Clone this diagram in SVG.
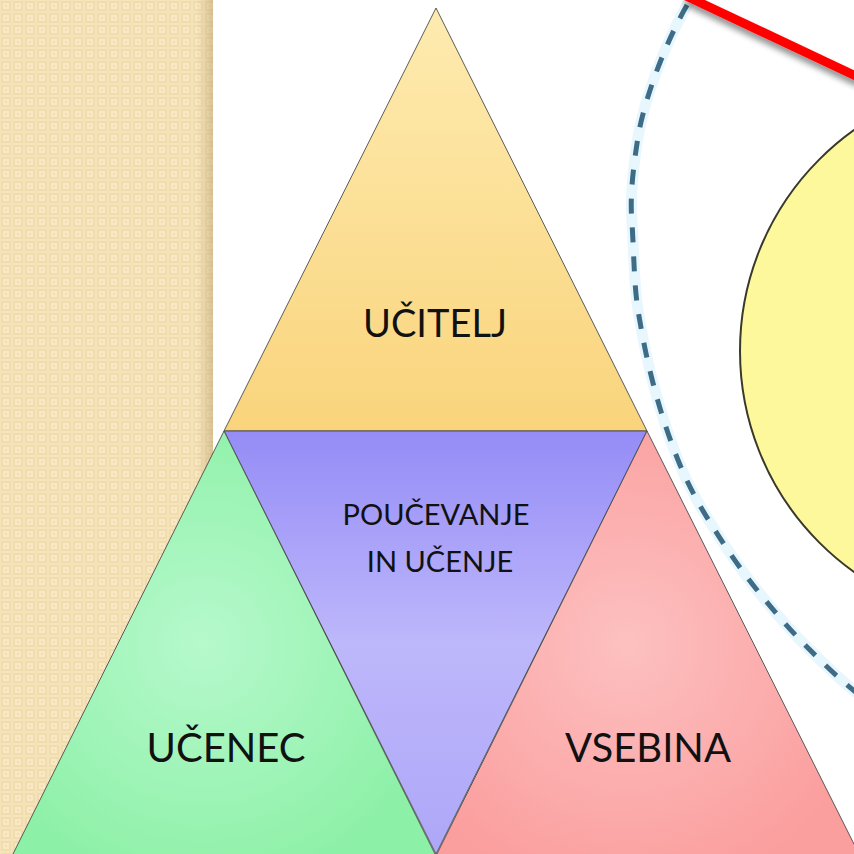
<svg xmlns="http://www.w3.org/2000/svg" width="854" height="854" viewBox="0 0 854 854">
<defs>
  <pattern id="chk" width="12" height="12" patternUnits="userSpaceOnUse">
    <rect width="12" height="12" fill="#f5e4ba"/>
    <rect x="1" y="1" width="10" height="10" fill="#f0dcaf"/>
    <rect x="3" y="3" width="6" height="6" fill="#f8e9c4"/>
    <rect x="5" y="5" width="2" height="2" fill="#f1ddb1"/>
  </pattern>
  <linearGradient id="edge" x1="0" y1="0" x2="1" y2="0">
    <stop offset="0" stop-color="#c8b080" stop-opacity="0"/>
    <stop offset="1" stop-color="#b89c68" stop-opacity="0.5"/>
  </linearGradient>
  <linearGradient id="gY" x1="0" y1="0" x2="0" y2="1">
    <stop offset="0" stop-color="#feebb0"/>
    <stop offset="1" stop-color="#f9d47c"/>
  </linearGradient>
  <radialGradient id="gG" cx="0.45" cy="0.5" r="0.6">
    <stop offset="0" stop-color="#b6f9cc"/>
    <stop offset="1" stop-color="#8cf0a6"/>
  </radialGradient>
  <linearGradient id="gP" x1="0" y1="0" x2="0" y2="1">
    <stop offset="0" stop-color="#958cf6"/>
    <stop offset="0.5" stop-color="#bdb7fb"/>
    <stop offset="1" stop-color="#aea7f8"/>
  </linearGradient>
  <radialGradient id="gR" cx="0.45" cy="0.5" r="0.6">
    <stop offset="0" stop-color="#fdc0c0"/>
    <stop offset="1" stop-color="#fb9e9e"/>
  </radialGradient>
  <filter id="sh" x="-20%" y="-50%" width="140%" height="200%">
    <feGaussianBlur in="SourceAlpha" stdDeviation="3"/>
    <feOffset dx="0" dy="5"/>
    <feComponentTransfer><feFuncA type="linear" slope="0.45"/></feComponentTransfer>
    <feMerge><feMergeNode/><feMergeNode in="SourceGraphic"/></feMerge>
  </filter>
  <filter id="glow" x="-20%" y="-20%" width="140%" height="140%">
    <feGaussianBlur stdDeviation="4"/>
  </filter>
  <style>
    .tri{stroke:#4a4a4a;stroke-width:0.9;stroke-linejoin:miter}
    .lbl{font-family:Lato,"Liberation Sans",sans-serif;fill:#111;text-anchor:middle}
  </style>
</defs>

<rect width="854" height="854" fill="#ffffff"/>

<!-- left textured panel -->
<g id="panel">
  <rect x="0" y="0" width="213" height="854" fill="url(#chk)"/>
  <rect x="196" y="0" width="17" height="854" fill="url(#edge)"/>
</g>

<!-- background decoration on the right -->
<g id="decor">
  <circle cx="1011" cy="351" r="281" fill="#ffffff" filter="url(#glow)"/>
  <circle cx="1011" cy="351" r="271" fill="#fdf89c" stroke="#3a3a2a" stroke-width="2"/>
  <path d="M690,0 C666,40 644,100 638,137 C632,175 630,200 632,223 C634,255 634,285 638,310 C642,335 647,360 653,383 C660,410 668,435 678,460 C688,485 700,507 713,527 C726,548 741,570 757,590 C773,610 790,630 807,647 C822,662 838,678 858,694" fill="none" stroke="#d8f1fb" stroke-width="11" stroke-opacity="0.6"/>
  <path d="M690,0 C666,40 644,100 638,137 C632,175 630,200 632,223 C634,255 634,285 638,310 C642,335 647,360 653,383 C660,410 668,435 678,460 C688,485 700,507 713,527 C726,548 741,570 757,590 C773,610 790,630 807,647 C822,662 838,678 858,694" fill="none" stroke="#3e6c86" stroke-width="5" stroke-dasharray="15 14" stroke-dashoffset="-6"/>
  <line x1="686" y1="-4" x2="860" y2="78" stroke="#ff0000" stroke-width="9" filter="url(#sh)"/>
</g>

<!-- triangles -->
<g id="ucitelj">
  <polygon class="tri" points="436,8 224,431 647,431" fill="url(#gY)"/>
  <text class="lbl" x="435" y="337" font-size="38">UČITELJ</text>
</g>
<g id="poucevanje">
  <polygon class="tri" points="224,431 647,431 436,854" fill="url(#gP)"/>
  <text class="lbl" x="436" y="525" font-size="29">POUČEVANJE</text>
  <text class="lbl" x="440" y="572" font-size="29">IN UČENJE</text>
</g>
<g id="ucenec">
  <polygon class="tri" points="224,431 12,856 436,856" fill="url(#gG)"/>
  <text class="lbl" x="226" y="762" font-size="40">UČENEC</text>
</g>
<g id="vsebina">
  <polygon class="tri" points="647,431 436,856 860,856" fill="url(#gR)"/>
  <text class="lbl" x="648" y="762" font-size="40">VSEBINA</text>
</g>
<g id="connectors"></g>
</svg>
